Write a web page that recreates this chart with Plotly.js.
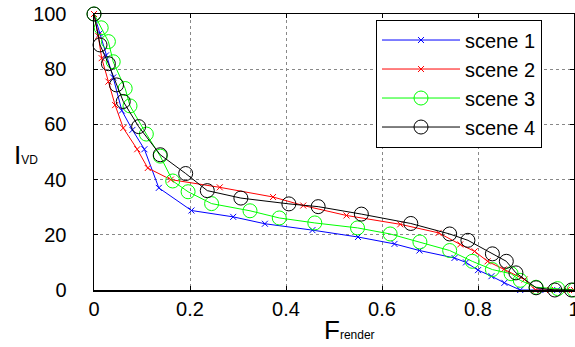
<!DOCTYPE html>
<html>
<head>
<meta charset="utf-8">
<script src="https://cdn.plot.ly/plotly-3.0.1.min.js"></script>
<style>html,body{margin:0;padding:0;background:#fff;}#chart{width:575px;height:347px;}</style>
</head>
<body>
<div id="chart"></div>
<script>
const seriesNames = ["scene 1", "scene 2", "scene 3", "scene 4"];

const scene1X = [0, 0.012, 0.025, 0.04, 0.058, 0.08, 0.105, 0.135, 0.203, 0.29, 0.356, 0.455, 0.55, 0.626, 0.678, 0.751, 0.775, 0.80, 0.828, 0.855, 0.888, 0.93, 0.965, 1.0];
const scene1Y = [100, 93, 85, 77, 65, 58, 51, 37, 28.8, 26.5, 24, 21.7, 19.2, 16.7, 14.3, 11.6, 10, 7.2, 5, 2.6, 0, 0, 0, 0];

const scene2X = [0, 0.009, 0.016, 0.03, 0.044, 0.061, 0.09, 0.112, 0.16, 0.262, 0.373, 0.436, 0.526, 0.638, 0.718, 0.763, 0.793, 0.82, 0.854, 0.897, 0.92, 0.95, 0.985, 1.0];
const scene2Y = [100, 92, 84, 75.5, 67, 58.7, 51, 44.2, 40, 37.2, 33.7, 30.6, 27, 23.8, 20.7, 16.5, 14, 10.4, 7.5, 3.8, 0, 0, 0, 0];

const scene3X = [0, 0.015, 0.03, 0.04, 0.065, 0.075, 0.109, 0.138, 0.164, 0.196, 0.245, 0.325, 0.386, 0.46, 0.549, 0.617, 0.679, 0.741, 0.788, 0.83, 0.869, 0.888, 0.921, 0.966, 1.0];
const scene3Y = [100, 95, 90, 82.7, 73, 66.7, 56.5, 48.5, 39.5, 35.6, 31.3, 28.7, 26.1, 24.3, 22.5, 20.3, 17.4, 14.3, 10.4, 7.4, 5.9, 3.5, 1, 0.5, 0];

const scene4X = [0, 0.0125, 0.03, 0.047, 0.061, 0.093, 0.138, 0.191, 0.236, 0.306, 0.406, 0.467, 0.557, 0.66, 0.741, 0.779, 0.83, 0.859, 0.879, 0.921, 0.96, 0.995];
const scene4Y = [100, 88.8, 82, 74.3, 68.3, 59.2, 49, 42.2, 36, 33.3, 31.2, 30.2, 27.5, 24.1, 20.3, 18, 13.1, 10.4, 6.2, 0.8, 0, 0];

const xTicks = [0, 0.2, 0.4, 0.6, 0.8, 1];
const xTickLabels = ["0", "0.2", "0.4", "0.6", "0.8", "1"];
const yTicks = [0, 20, 40, 60, 80, 100];
const yTickLabels = ["0", "20", "40", "60", "80", "100"];

const xTitleMain = "F", xTitleSub = "render";
const yTitleMain = "I", yTitleSub = "VD";

const colors = ["#0000ff", "#ff0000", "#00ff00", "#000000"];
const xs = [scene1X, scene2X, scene3X, scene4X];
const ys = [scene1Y, scene2Y, scene3Y, scene4Y];
const symbols = ["x-thin-open", "x-thin-open", "circle-open", "circle-open"];
const sizes = [6, 6, 14, 14];

const FONT = "Arial, 'Liberation Sans', sans-serif";

const traces = seriesNames.map((n, i) => ({
  type: "scatter", mode: "lines+markers", name: n,
  x: xs[i], y: ys[i],
  line: {color: colors[i], width: 1},
  marker: {symbol: symbols[i], size: sizes[i], color: colors[i], line: {color: colors[i], width: 1}},
  cliponaxis: false
}));

const axisCommon = {
  showline: true, linecolor: "#000", linewidth: 1.5, mirror: "ticks",
  ticks: "inside", ticklen: 4, tickcolor: "#000",
  showgrid: true, gridcolor: "#888", griddash: "dot", gridwidth: 1,
  zeroline: false, ticklabeloverflow: "allow",
  tickfont: {family: FONT, size: 20, color: "#000"}
};

const layout = {
  width: 575, height: 347,
  margin: {l: 94, r: 1, t: 14, b: 57},
  paper_bgcolor: "#fff", plot_bgcolor: "#fff",
  showlegend: true,
  legend: {
    x: 0.5875, y: 0.98, xanchor: "left", yanchor: "top",
    bgcolor: "#fff", bordercolor: "#000", borderwidth: 1,
    font: {family: FONT, size: 20, color: "#000"},
    itemwidth: 78
  },
  xaxis: Object.assign({}, axisCommon, {
    range: [0, 1], tickvals: xTicks, ticktext: xTickLabels
  }),
  yaxis: Object.assign({}, axisCommon, {
    range: [0, 100], tickvals: yTicks, ticktext: yTickLabels, ticklabelstandoff: 22
  }),
  annotations: [
    {xref: "paper", yref: "paper", x: 0.475, y: -0.145, xanchor: "left", yanchor: "middle", showarrow: false,
     text: xTitleMain + "<span style='font-size:12px'>" + xTitleSub + "</span>",
     font: {family: FONT, size: 26, color: "#000"}},
    {xref: "paper", yref: "paper", x: -0.171, y: 0.489, xanchor: "left", yanchor: "middle", showarrow: false,
     text: yTitleMain + "<span style='font-size:12px'>" + yTitleSub + "</span>",
     font: {family: FONT, size: 26, color: "#000"}}
  ]
};

Plotly.newPlot("chart", traces, layout, {displayModeBar: false, staticPlot: true});
</script>
</body>
</html>
